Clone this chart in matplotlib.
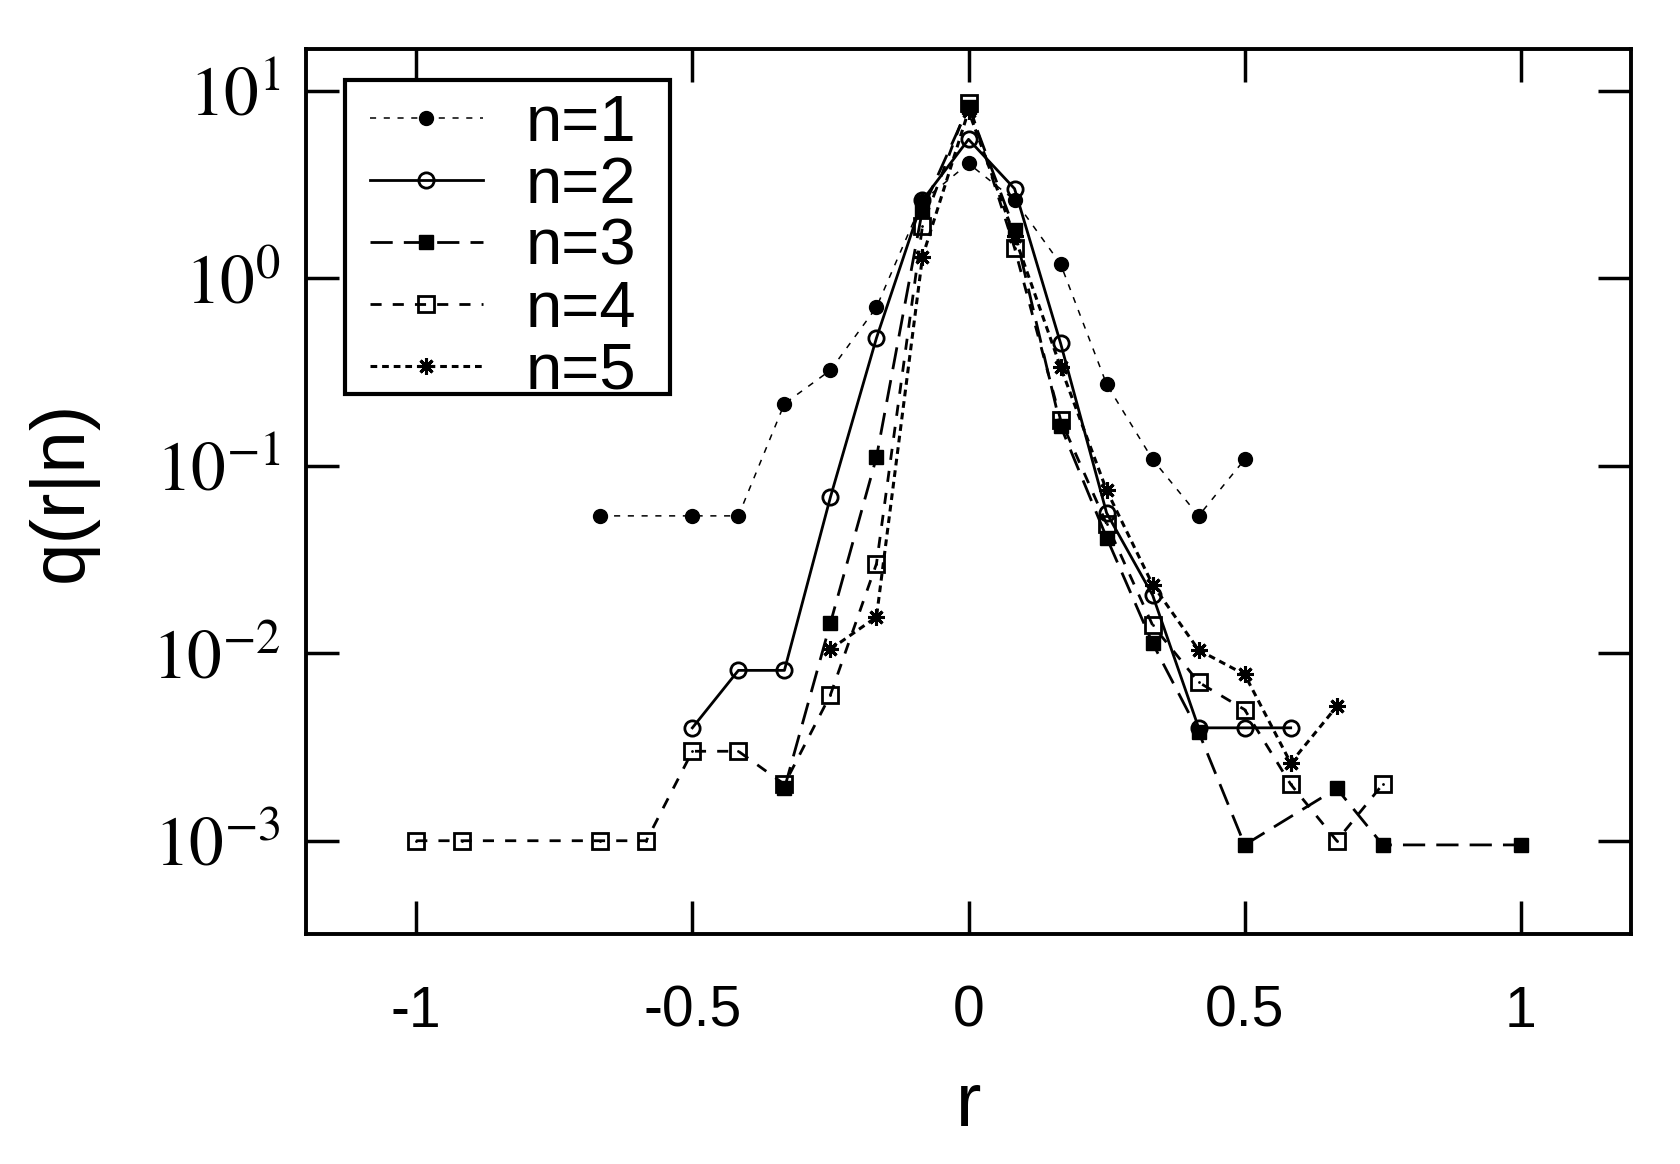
import numpy as np
import matplotlib
matplotlib.use('Agg')
import matplotlib.pyplot as plt
from matplotlib.patches import Rectangle
from matplotlib.ticker import FixedLocator, FixedFormatter, NullLocator

plt.rcParams['font.family'] = ['Liberation Sans', 'DejaVu Sans']
plt.rcParams['mathtext.fontset'] = 'stix'

# r 的取值都是 1/12 的整数倍
r1 = np.array([-8, -6, -5, -4, -3, -2, -1, 0, 1, 2, 3, 4, 5, 6]) / 12
q1 = [0.054, 0.054, 0.054, 0.214, 0.323, 0.70, 2.58, 4.09, 2.61, 1.19, 0.272, 0.108, 0.054, 0.108]

r2 = np.array([-6, -5, -4, -3, -2, -1, 0, 1, 2, 3, 4, 5, 6, 7]) / 12
q2 = [0.0040, 0.0081, 0.0081, 0.068, 0.48, 2.6, 5.5, 3.0, 0.45, 0.056, 0.0204, 0.0040, 0.0040, 0.0040]

r3 = np.array([-4, -3, -2, -1, 0, 1, 2, 3, 4, 5, 6, 8, 9, 12]) / 12
q3 = [0.0019, 0.0145, 0.111, 2.32, 8.2, 1.81, 0.163, 0.0414, 0.0113, 0.0038, 0.00095, 0.0019, 0.00095, 0.00095]

r4 = np.array([-12, -11, -8, -7, -6, -5, -4, -3, -2, -1, 0, 1, 2, 3, 4, 5, 6, 7, 8, 9]) / 12
q4 = [0.001, 0.001, 0.001, 0.001, 0.003, 0.003, 0.002, 0.006, 0.030, 1.9, 8.6, 1.45, 0.176,
      0.049, 0.0141, 0.0070, 0.0050, 0.0020, 0.0010, 0.0020]

r5 = np.array([-3, -2, -1, 0, 1, 2, 3, 4, 5, 6, 7, 8]) / 12
q5 = [0.0105, 0.0156, 1.3, 7.8, 1.67, 0.336, 0.074, 0.0232, 0.0104, 0.0077, 0.0026, 0.0052]

labels = ['n=1', 'n=2', 'n=3', 'n=4', 'n=5']
xticks = [-1, -0.5, 0, 0.5, 1]
xticklabels = ['-1', '-0.5', '0', '0.5', '1']
yticks = [1e-3, 1e-2, 1e-1, 1e0, 1e1]
yticklabels = [r'$10^{-3}$', r'$10^{-2}$', r'$10^{-1}$', r'$10^{0}$', r'$10^{1}$']


def main():
    fig = plt.figure(figsize=(16.8, 11.64), dpi=100)
    ax = fig.add_axes([0.182, 0.198, 0.789, 0.760])

    # 每条曲线的样式
    ax.plot(r1, q1, color='k', lw=1.1, dashes=(4, 5), marker='o', ms=10,
            mfc='k', mec='k', label=labels[0])
    ax.plot(r2, q2, color='k', lw=2.0, ls='-', marker='o', ms=11,
            mfc='none', mec='k', mew=2.0, label=labels[1])
    ax.plot(r3, q3, color='k', lw=2.0, dashes=(8, 4), marker='s', ms=10,
            mfc='k', mec='k', label=labels[2])
    ax.plot(r4, q4, color='k', lw=2.0, dashes=(4, 4), marker='s', ms=11,
            mfc='none', mec='k', mew=2.0, label=labels[3])
    ax.plot(r4, q4, ls='none', marker='.', ms=2, color='k')
    ax.plot(r5, q5, color='k', lw=2.2, dashes=(2.2, 1.6), marker=(8, 2, 0), ms=12,
            mec='k', mew=2.2, label=labels[4])

    ax.set_yscale('log')
    ax.set_xlim(-1.2, 1.2)
    ax.set_ylim(3.2e-4, 16.7)

    ax.xaxis.set_major_locator(FixedLocator(xticks))
    ax.xaxis.set_major_formatter(FixedFormatter(xticklabels))
    ax.yaxis.set_major_locator(FixedLocator(yticks))
    ax.yaxis.set_major_formatter(FixedFormatter(yticklabels))
    ax.yaxis.set_minor_locator(NullLocator())
    ax.xaxis.set_minor_locator(NullLocator())

    ax.tick_params(which='major', direction='in', length=24, width=2.5,
                   top=True, right=True)
    ax.tick_params(axis='x', labelsize=41, pad=37)
    ax.tick_params(axis='y', labelsize=50, pad=18)
    for sp in ax.spines.values():
        sp.set_linewidth(2.8)

    ax.set_xlabel('r', fontsize=55)
    ax.set_ylabel('q(r|n)', fontsize=55)
    ax.xaxis.set_label_coords(0.5, -0.155)
    ax.yaxis.set_label_coords(-0.157, 0.5)

    # 图例外框单独画
    box = Rectangle((0.0294, 0.610), 0.2453, 0.355, transform=ax.transAxes,
                    facecolor='white', edgecolor='k', lw=3.0, zorder=4)
    ax.add_patch(box)
    leg = ax.legend(loc='upper left', bbox_to_anchor=(0.0483, 0.949), borderaxespad=0,
                    fontsize=47, handlelength=1.73, handletextpad=0.66, borderpad=0,
                    labelspacing=0.03, frameon=False)
    leg.set_zorder(5)

    fig.savefig('out.png', dpi=100)


if __name__ == '__main__':
    main()
